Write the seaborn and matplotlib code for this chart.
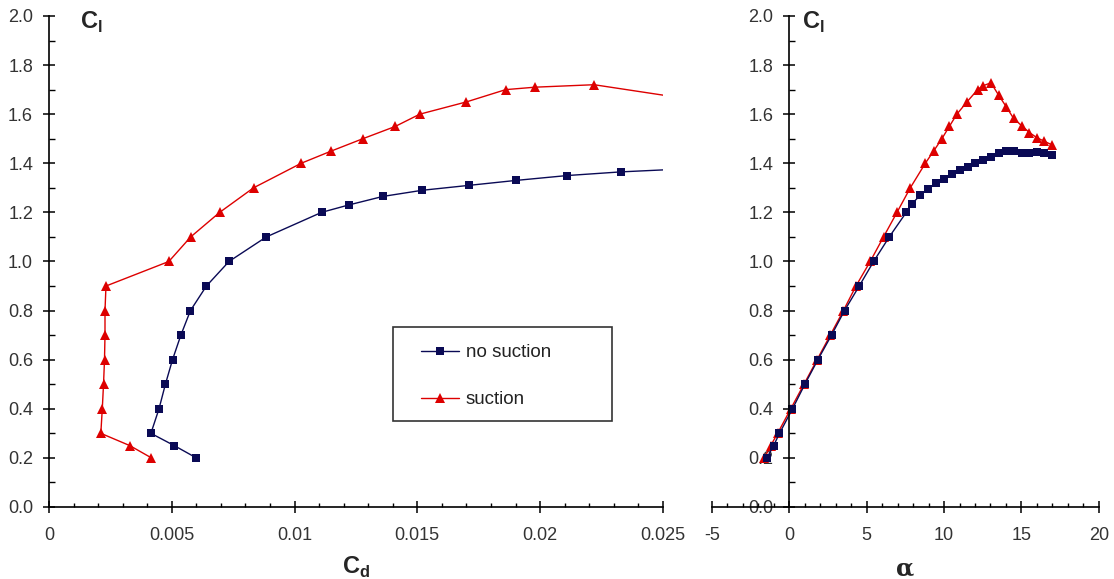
import numpy as np
import pandas as pd
import seaborn as sns
import matplotlib
matplotlib.use("Agg")
import matplotlib.pyplot as plt
from matplotlib.patches import Rectangle
from matplotlib.ticker import MultipleLocator, FuncFormatter

# Cl vs Cd - no suction
cd_nosuc = [0.0060, 0.0051, 0.00415, 0.00448, 0.00474, 0.00503, 0.00537, 0.00576, 0.00641, 0.00733,
            0.00885, 0.0111, 0.0122, 0.0136, 0.0152, 0.0171, 0.0190, 0.0211, 0.0233, 0.0265]
cl_nosuc = [0.20, 0.25, 0.30, 0.40, 0.50, 0.60, 0.70, 0.80, 0.90, 1.00,
            1.10, 1.20, 1.23, 1.265, 1.29, 1.31, 1.33, 1.35, 1.365, 1.38]

# Cl vs Cd - suction
cd_suc = [0.00417, 0.00329, 0.00211, 0.00217, 0.00222, 0.00226, 0.00228, 0.00228, 0.00232, 0.00488,
          0.00577, 0.00695, 0.00833, 0.01027, 0.0115, 0.01278, 0.0141, 0.0151, 0.0170, 0.0186,
          0.0198, 0.0222, 0.0265]
cl_suc = [0.20, 0.25, 0.30, 0.40, 0.50, 0.60, 0.70, 0.80, 0.90, 1.00,
          1.10, 1.20, 1.30, 1.40, 1.45, 1.50, 1.55, 1.60, 1.65, 1.70,
          1.71, 1.72, 1.655]

# Cl vs alpha - no suction
alpha_nosuc = [-1.44, -1.01, -0.63, 0.21, 1.01, 1.85, 2.73, 3.57, 4.52, 5.45,
               6.46, 7.56, 7.93, 8.46, 8.96, 9.5, 9.97, 10.51, 11.0, 11.52,
               12.02, 12.49, 13.03, 13.52, 14.02, 14.49, 15.03, 15.52, 16.0, 16.47, 16.97]
cla_nosuc = [0.20, 0.25, 0.30, 0.40, 0.50, 0.60, 0.70, 0.80, 0.90, 1.00,
             1.10, 1.20, 1.235, 1.27, 1.295, 1.318, 1.336, 1.356, 1.373, 1.386,
             1.403, 1.413, 1.424, 1.44, 1.45, 1.45, 1.44, 1.44, 1.445, 1.44, 1.435]

# Cl vs alpha - suction
alpha_suc = [-1.6, -1.2, -0.75, 0.1, 0.95, 1.8, 2.65, 3.5, 4.31, 5.23,
             6.09, 6.96, 7.82, 8.79, 9.33, 9.86, 10.34, 10.83, 11.48, 12.17,
             12.49, 13.03, 13.52, 14.02, 14.49, 15.03, 15.52, 16.0, 16.47, 16.97]
cla_suc = [0.20, 0.25, 0.30, 0.40, 0.50, 0.60, 0.70, 0.80, 0.90, 1.00,
           1.10, 1.20, 1.30, 1.40, 1.45, 1.50, 1.55, 1.60, 1.65, 1.70,
           1.715, 1.728, 1.678, 1.63, 1.583, 1.552, 1.525, 1.504, 1.49, 1.475]

navy = "#0a0a55"
red = "#dd0000"

sns.set_style("white")
plt.rcParams["font.family"] = ["Liberation Sans", "DejaVu Sans"]
plt.rcParams["mathtext.fontset"] = "custom"
plt.rcParams["mathtext.rm"] = "Liberation Sans"
plt.rcParams["mathtext.bf"] = "Liberation Sans:bold"

W, H = 1114, 579
fig = plt.figure(figsize=(W / 100, H / 100), dpi=100)
ax1 = fig.add_axes([0.044, 0.1244, 0.551, 0.848])
ax2 = fig.add_axes([0.639, 0.1244, 0.3474, 0.848])

# left panel
sns.lineplot(x=cd_nosuc, y=cl_nosuc, sort=False, estimator=None, ax=ax1, color=navy,
             marker="s", markersize=6, markeredgewidth=0, linewidth=1, label="no suction")
sns.lineplot(x=cd_suc, y=cl_suc, sort=False, estimator=None, ax=ax1, color=red,
             marker="^", markersize=7.5, markeredgewidth=0, linewidth=1, label="suction")

# right panel (suction drawn first so squares sit on top)
sns.lineplot(x=alpha_suc, y=cla_suc, sort=False, estimator=None, ax=ax2, color=red,
             marker="^", markersize=7.5, markeredgewidth=0, linewidth=1)
sns.lineplot(x=alpha_nosuc, y=cla_nosuc, sort=False, estimator=None, ax=ax2, color=navy,
             marker="s", markersize=6, markeredgewidth=0, linewidth=1)

ax1.set_xlim(0, 0.025)
ax2.set_xlim(-5, 20)
for ax in (ax1, ax2):
    ax.set_ylim(0, 2.0)
    ax.spines["top"].set_visible(False)
    ax.spines["right"].set_visible(False)
    for s in ("left", "bottom"):
        ax.spines[s].set_color("black")
        ax.spines[s].set_linewidth(1.2)
    ax.yaxis.set_major_locator(MultipleLocator(0.2))
    ax.yaxis.set_minor_locator(MultipleLocator(0.1))
    ax.yaxis.set_major_formatter(FuncFormatter(lambda v, p: f"{v:.1f}"))
    ax.tick_params(axis="both", which="both", bottom=True, left=True, top=False, right=False)
    ax.tick_params(axis="both", which="major", labelsize=13, labelcolor="#333333",
                   color="black", width=1.1)
    ax.tick_params(axis="y", which="major", direction="inout", length=9, pad=7)
    ax.tick_params(axis="x", which="major", direction="inout", length=9, pad=10)
    ax.tick_params(axis="y", which="minor", direction="in", length=4, width=1, color="black")
    ax.tick_params(axis="x", which="minor", direction="in", length=3, width=1, color="black")
    ax.text(0.051 if ax is ax1 else 0.233, 1.012, r"$\mathbf{C}_\mathbf{l}$", transform=ax.transAxes,
            fontsize=17, va="top", ha="left")

ax1.xaxis.set_major_locator(MultipleLocator(0.005))
ax1.xaxis.set_minor_locator(MultipleLocator(0.001))
ax1.xaxis.set_major_formatter(FuncFormatter(lambda v, p: f"{v:g}"))
ax2.xaxis.set_major_locator(MultipleLocator(5))
ax2.xaxis.set_minor_locator(MultipleLocator(1))
ax2.xaxis.set_major_formatter(FuncFormatter(lambda v, p: f"{v:g}"))
ax2.spines["left"].set_position(("data", 0))

ax1.set_xlabel(r"$\mathbf{C}_\mathbf{d}$", fontsize=17, labelpad=8)
ax2.set_xlabel("α", fontsize=17, family="DejaVu Serif", fontweight="bold", labelpad=9)
ax1.set_ylabel("")
ax2.set_ylabel("")

# legend box drawn separately so it can be wider than its contents, like the original
box = Rectangle((393 / W, 1 - 421 / H), 219 / W, 94 / H, transform=fig.transFigure,
                facecolor="white", edgecolor="#333333", linewidth=1.2, zorder=5, clip_on=False)
ax1.add_artist(box)
leg = ax1.legend(loc="upper left", bbox_to_anchor=(421 / W, 1 - 344 / H), bbox_transform=fig.transFigure,
                 fontsize=13.5, frameon=False, handlelength=2.0, borderpad=0, labelspacing=1.6,
                 handletextpad=0.4, borderaxespad=0)
leg.set_zorder(6)
for t in leg.get_texts():
    t.set_color("#222222")

fig.savefig("out.png", dpi=100, facecolor="white")
